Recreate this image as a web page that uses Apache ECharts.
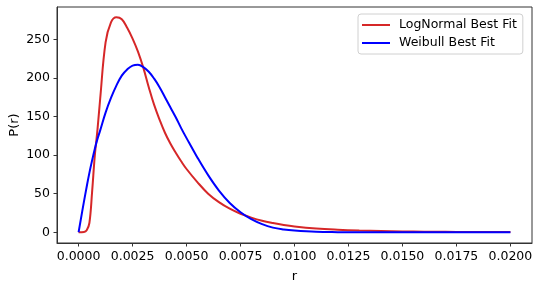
<!DOCTYPE html>
<html>
<head>
<meta charset="utf-8">
<script src="https://cdn.jsdelivr.net/npm/echarts@6/dist/echarts.min.js"></script>
<style>
html,body{margin:0;padding:0;background:#fff;}
#chart{width:540px;height:289px;}
</style>
</head>
<body>
<div id="chart"></div>
<script>
// Data
var rValues = [0, 0.00025, 0.000375, 0.0005, 0.000625, 0.00075, 0.000875, 0.001, 0.00125, 0.0015, 0.00175, 0.002, 0.00225, 0.0025, 0.00275, 0.003, 0.00325, 0.0035, 0.00375, 0.004, 0.00425, 0.0045, 0.00475, 0.005, 0.0055, 0.006, 0.0065, 0.007, 0.0075, 0.008, 0.0085, 0.009, 0.0095, 0.01, 0.011, 0.012, 0.013, 0.014, 0.015, 0.016, 0.017, 0.018, 0.019, 0.02];
var logNormalValues = [0, 0.3, 2.5, 12, 52, 99, 133, 173, 246, 272, 278.5, 276, 265, 251, 234, 213, 188, 165, 146, 129, 115, 103, 92, 82, 65, 50, 39, 30.5, 24, 19, 15, 12, 9.5, 7.6, 5, 3.4, 2.3, 1.6, 1.1, 0.8, 0.55, 0.4, 0.3, 0.2];
var weibullValues = [0, 40, 59, 77, 93, 108, 121, 132, 155, 174, 190, 203, 211, 216, 217, 214, 208, 199, 188, 175, 162, 149, 135, 122, 97, 74, 54, 38, 26, 17, 10.5, 6, 3.6, 2.2, 0.6, 0.15, 0.03, 0, 0, 0, 0, 0, 0, 0];
var xTicks = [0, 0.0025, 0.005, 0.0075, 0.01, 0.0125, 0.015, 0.0175, 0.02];
var yTicks = [0, 50, 100, 150, 200, 250];
var seriesNames = ['LogNormal Best Fit', 'Weibull Best Fit'];

function pairs(xs, ys) { return xs.map(function (x, i) { return [x, ys[i]]; }); }

var font = 'DejaVu Sans';
var chart = echarts.init(document.getElementById('chart'), null, {renderer: 'canvas'});
chart.setOption({
  animation: false,
  backgroundColor: '#fff',
  textStyle: {fontFamily: font},
  grid: {left: 57, right: 8, top: 7, bottom: 46, show: true, borderColor: '#333', borderWidth: 1,
    containLabel: false, outerBoundsMode: 'none'},
  legend: {
    data: seriesNames,
    orient: 'vertical',
    left: 358, top: 14,
    padding: [4, 6, 4, 4],
    itemGap: 4,
    itemWidth: 28, itemHeight: 2,
    icon: 'rect',
    backgroundColor: '#fff',
    borderColor: '#d0d0d0', borderWidth: 1, borderRadius: 3,
    textStyle: {fontFamily: font, fontSize: 12.5, color: '#000', lineHeight: 14, padding: [0, 0, 0, 4]}
  },
  xAxis: {
    type: 'value', min: -0.001, max: 0.021,
    name: 'r', nameLocation: 'middle', nameGap: 27, nameMoveOverlap: false,
    nameTextStyle: {fontFamily: font, fontSize: 13, color: '#000'},
    axisLine: {show: true, onZero: false, lineStyle: {color: '#333', width: 1}},
    axisTick: {show: true, length: 3.5, lineStyle: {color: '#333'}, customValues: xTicks},
    axisLabel: {fontFamily: font, fontSize: 12.5, color: '#000', margin: 7, customValues: xTicks,
      formatter: function (v) { return v.toFixed(4); }},
    splitLine: {show: false}
  },
  yAxis: {
    type: 'value', min: -13.9, max: 291.9,
    name: 'P(r)', nameLocation: 'middle', nameGap: 36, nameRotate: 90, nameMoveOverlap: false,
    nameTextStyle: {fontFamily: font, fontSize: 13, color: '#000'},
    axisLine: {show: true, onZero: false, lineStyle: {color: '#333', width: 1}},
    axisTick: {show: true, length: 3.5, lineStyle: {color: '#333'}, customValues: yTicks},
    axisLabel: {fontFamily: font, fontSize: 12.5, color: '#000', margin: 7, customValues: yTicks,
      formatter: function (v) { return String(v); }},
    splitLine: {show: false}
  },
  series: [
    {name: seriesNames[0], type: 'line', data: pairs(rValues, logNormalValues), showSymbol: false, smooth: 0.4,
      lineStyle: {color: '#d62728', width: 2}, itemStyle: {color: '#d62728'}, z: 2},
    {name: seriesNames[1], type: 'line', data: pairs(rValues, weibullValues), showSymbol: false, smooth: 0.4,
      lineStyle: {color: '#0000ff', width: 2}, itemStyle: {color: '#0000ff'}, z: 3}
  ]
});
</script>
</body>
</html>
